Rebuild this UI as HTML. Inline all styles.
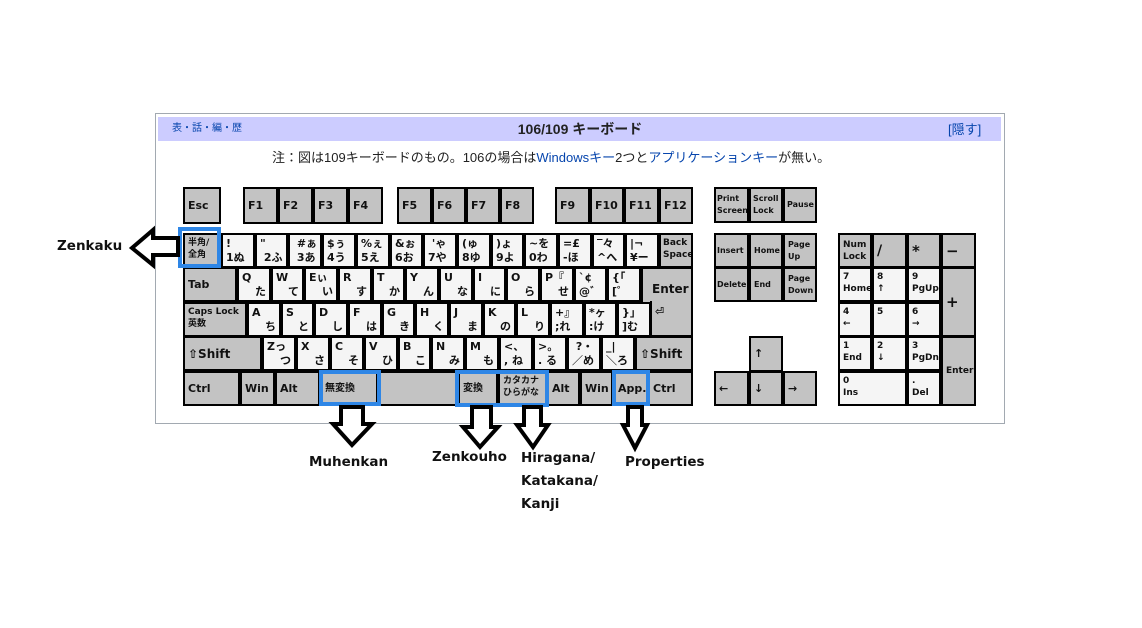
<!DOCTYPE html>
<html><head><meta charset="utf-8"><style>
body{margin:0;width:1142px;height:628px;background:#fff;position:relative;overflow:hidden;font-family:"Liberation Sans","Noto Sans CJK JP",sans-serif}
.box{position:absolute;left:155px;top:113px;width:848px;height:309px;border:1px solid #a2a9b1;background:#fff}
.tb{position:absolute;left:158px;top:117px;width:843px;height:24px;background:#ccccff}
.k{position:absolute;box-sizing:border-box;border:2px solid #000;font:bold 11px "DejaVu Sans","Noto Sans CJK JP",sans-serif;padding:2px 3px;line-height:14px;overflow:hidden;color:#111;white-space:nowrap}
.g{background:#c3c3c3}.w{background:#f5f5f5}
.c{display:flex;align-items:center}
.r{text-align:right}
.s{font-size:9px;line-height:12px}
.bl{position:absolute;box-sizing:border-box;border:4px solid #2e86e6}
.lb{position:absolute;font:bold 14px "DejaVu Sans",sans-serif;color:#111;line-height:24px}
</style></head><body>
<div class="box"></div>
<div class="tb"></div>
<div style="position:absolute;left:172px;top:119px;font-size:10px;color:#0645ad">表・話・編・歴</div>
<div style="position:absolute;left:480px;top:119px;width:200px;text-align:center;font:bold 14px 'Liberation Sans','Noto Sans CJK JP',sans-serif;color:#222">106/109 キーボード</div>
<div style="position:absolute;left:948px;top:119px;font-size:13px;color:#0645ad">[隠す]</div>
<div style="position:absolute;left:272px;top:147px;font-size:13px;color:#222">注：図は109キーボードのもの。106の場合は<span style="color:#0645ad">Windowsキー</span>2つと<span style="color:#0645ad">アプリケーションキー</span>が無い。</div>

<!-- F row -->
<div class="k g c" style="left:183px;top:187px;width:38px;height:37px">Esc</div>
<div class="k g c" style="left:243px;top:187px;width:35px;height:37px">F1</div>
<div class="k g c" style="left:278px;top:187px;width:35px;height:37px">F2</div>
<div class="k g c" style="left:313px;top:187px;width:35px;height:37px">F3</div>
<div class="k g c" style="left:348px;top:187px;width:35px;height:37px">F4</div>
<div class="k g c" style="left:397px;top:187px;width:35px;height:37px">F5</div>
<div class="k g c" style="left:432px;top:187px;width:34px;height:37px">F6</div>
<div class="k g c" style="left:466px;top:187px;width:34px;height:37px">F7</div>
<div class="k g c" style="left:500px;top:187px;width:34px;height:37px">F8</div>
<div class="k g c" style="left:555px;top:187px;width:35px;height:37px">F9</div>
<div class="k g c" style="left:590px;top:187px;width:34px;height:37px">F10</div>
<div class="k g c" style="left:624px;top:187px;width:35px;height:37px">F11</div>
<div class="k g c" style="left:659px;top:187px;width:34px;height:37px">F12</div>
<div class="k g c s" style="left:714px;top:187px;width:35px;height:36px;font-size:8px;padding:1px">Print<br>Screen</div>
<div class="k g c s" style="left:749px;top:187px;width:34px;height:36px;font-size:8px;padding:1px 2px">Scroll<br>Lock</div>
<div class="k g c s" style="left:783px;top:187px;width:34px;height:36px;font-size:8px;padding:1px 2px">Pause</div>

<!-- number row -->
<div class="k g s" style="left:183px;top:233px;width:38px;height:35px">半角/<br>全角</div>
<div class="k w" style="left:221px;top:233px;width:34px;height:35px">!<br>1ぬ</div>
<div class="k w" style="left:255px;top:233px;width:33px;height:35px">&quot;<br>&nbsp;2ふ</div>
<div class="k w" style="left:288px;top:233px;width:34px;height:35px">&nbsp;#ぁ<br>&nbsp;3あ</div>
<div class="k w" style="left:322px;top:233px;width:34px;height:35px">$ぅ<br>4う</div>
<div class="k w" style="left:356px;top:233px;width:34px;height:35px">%ぇ<br>5え</div>
<div class="k w" style="left:390px;top:233px;width:33px;height:35px">&amp;ぉ<br>6お</div>
<div class="k w" style="left:423px;top:233px;width:34px;height:35px">&nbsp;'ゃ<br>7や</div>
<div class="k w" style="left:457px;top:233px;width:34px;height:35px">(ゅ<br>8ゆ</div>
<div class="k w" style="left:491px;top:233px;width:33px;height:35px">)ょ<br>9よ</div>
<div class="k w" style="left:524px;top:233px;width:34px;height:35px">~を<br>0わ</div>
<div class="k w" style="left:558px;top:233px;width:34px;height:35px">=£<br>-ほ</div>
<div class="k w" style="left:592px;top:233px;width:33px;height:35px">‾々<br>^へ</div>
<div class="k w" style="left:625px;top:233px;width:34px;height:35px">|¬<br>¥ー</div>
<div class="k g s" style="left:659px;top:233px;width:34px;height:35px;font-size:9px;padding:2px 2px">Back<br>Space</div>

<!-- tab row -->
<div class="k g c" style="left:183px;top:267px;width:54px;height:35px">Tab</div>
<div class="k w" style="left:237px;top:267px;width:34px;height:35px">Q<div class="r">た</div></div>
<div class="k w" style="left:271px;top:267px;width:33px;height:35px">W<div class="r">て</div></div>
<div class="k w" style="left:304px;top:267px;width:34px;height:35px">Eぃ<div class="r">い</div></div>
<div class="k w" style="left:338px;top:267px;width:34px;height:35px">R<div class="r">す</div></div>
<div class="k w" style="left:372px;top:267px;width:33px;height:35px">T<div class="r">か</div></div>
<div class="k w" style="left:405px;top:267px;width:34px;height:35px">Y<div class="r">ん</div></div>
<div class="k w" style="left:439px;top:267px;width:34px;height:35px">U<div class="r">な</div></div>
<div class="k w" style="left:473px;top:267px;width:33px;height:35px">I<div class="r">に</div></div>
<div class="k w" style="left:506px;top:267px;width:34px;height:35px">O<div class="r">ら</div></div>
<div class="k w" style="left:540px;top:267px;width:34px;height:35px">P『<div class="r">せ</div></div>
<div class="k w" style="left:574px;top:267px;width:33px;height:35px">`¢<br>@゛</div>
<div class="k w" style="left:607px;top:267px;width:34px;height:35px">{「<br>[゜</div>
<div class="k g" style="left:641px;top:267px;width:52px;height:37px;padding:13px 0 0 9px;font-size:12px">Enter</div>
<div class="k g" style="left:650px;top:301px;width:43px;height:36px;padding-left:3px">⏎</div>
<div style="position:absolute;left:652px;top:299px;width:39px;height:6px;background:#c3c3c3"></div>

<!-- caps row -->
<div class="k g s" style="left:183px;top:302px;width:64px;height:35px;font-size:9px">Caps Lock<br>英数</div>
<div class="k w" style="left:247px;top:302px;width:34px;height:35px">A<div class="r">ち</div></div>
<div class="k w" style="left:281px;top:302px;width:33px;height:35px">S<div class="r">と</div></div>
<div class="k w" style="left:314px;top:302px;width:34px;height:35px">D<div class="r">し</div></div>
<div class="k w" style="left:348px;top:302px;width:34px;height:35px">F<div class="r">は</div></div>
<div class="k w" style="left:382px;top:302px;width:33px;height:35px">G<div class="r">き</div></div>
<div class="k w" style="left:415px;top:302px;width:34px;height:35px">H<div class="r">く</div></div>
<div class="k w" style="left:449px;top:302px;width:34px;height:35px">J<div class="r">ま</div></div>
<div class="k w" style="left:483px;top:302px;width:33px;height:35px">K<div class="r">の</div></div>
<div class="k w" style="left:516px;top:302px;width:34px;height:35px">L<div class="r">り</div></div>
<div class="k w" style="left:550px;top:302px;width:34px;height:35px">+』<br>;れ</div>
<div class="k w" style="left:584px;top:302px;width:33px;height:35px">*ヶ<br>:け</div>
<div class="k w" style="left:617px;top:302px;width:34px;height:35px">}」<br>]む</div>

<!-- shift row -->
<div class="k g c" style="left:183px;top:336px;width:79px;height:35px;font-size:12px">⇧Shift</div>
<div class="k w" style="left:262px;top:336px;width:34px;height:35px">Zっ<div class="r">つ</div></div>
<div class="k w" style="left:296px;top:336px;width:34px;height:35px">X<div class="r">さ</div></div>
<div class="k w" style="left:330px;top:336px;width:34px;height:35px">C<div class="r">そ</div></div>
<div class="k w" style="left:364px;top:336px;width:34px;height:35px">V<div class="r">ひ</div></div>
<div class="k w" style="left:398px;top:336px;width:33px;height:35px">B<div class="r">こ</div></div>
<div class="k w" style="left:431px;top:336px;width:34px;height:35px">N<div class="r">み</div></div>
<div class="k w" style="left:465px;top:336px;width:34px;height:35px">M<div class="r">も</div></div>
<div class="k w" style="left:499px;top:336px;width:34px;height:35px">&lt;、<br>, ね</div>
<div class="k w" style="left:533px;top:336px;width:34px;height:35px">&gt;。<br>. る</div>
<div class="k w" style="left:567px;top:336px;width:34px;height:35px">&nbsp;?・<br>／め</div>
<div class="k w" style="left:601px;top:336px;width:34px;height:35px">_|<br>＼ろ</div>
<div class="k g c" style="left:635px;top:336px;width:58px;height:35px;font-size:12px">⇧Shift</div>

<!-- bottom row -->
<div class="k g c" style="left:183px;top:371px;width:57px;height:35px">Ctrl</div>
<div class="k g c" style="left:240px;top:371px;width:35px;height:35px">Win</div>
<div class="k g c" style="left:275px;top:371px;width:45px;height:35px">Alt</div>
<div class="k g c s" style="left:320px;top:371px;width:58px;height:35px;font-size:10px">無変換</div>
<div class="k g" style="left:378px;top:371px;width:80px;height:35px"></div>
<div class="k g c s" style="left:458px;top:371px;width:40px;height:35px;font-size:10px">変換</div>
<div class="k g s" style="left:498px;top:371px;width:49px;height:35px;font-size:9px;line-height:12px">カタカナ<br>ひらがな</div>
<div class="k g c" style="left:547px;top:371px;width:33px;height:35px">Alt</div>
<div class="k g c" style="left:580px;top:371px;width:33px;height:35px">Win</div>
<div class="k g c" style="left:613px;top:371px;width:35px;height:35px">App.</div>
<div class="k g c" style="left:648px;top:371px;width:45px;height:35px">Ctrl</div>

<!-- nav -->
<div class="k g c s" style="left:714px;top:233px;width:35px;height:35px;font-size:8px;padding:1px">Insert</div>
<div class="k g c s" style="left:749px;top:233px;width:34px;height:35px;font-size:8px">Home</div>
<div class="k g c s" style="left:783px;top:233px;width:34px;height:35px;font-size:8px">Page<br>Up</div>
<div class="k g c s" style="left:714px;top:267px;width:35px;height:35px;font-size:8px;padding:1px">Delete</div>
<div class="k g c s" style="left:749px;top:267px;width:34px;height:35px;font-size:8px">End</div>
<div class="k g c s" style="left:783px;top:267px;width:34px;height:35px;font-size:8px">Page<br>Down</div>
<div class="k g c" style="left:749px;top:336px;width:34px;height:36px">↑</div>
<div class="k g c" style="left:714px;top:371px;width:35px;height:35px">←</div>
<div class="k g c" style="left:749px;top:371px;width:34px;height:35px">↓</div>
<div class="k g c" style="left:783px;top:371px;width:34px;height:35px">→</div>

<!-- numpad -->
<div class="k g c s" style="left:838px;top:233px;width:34px;height:35px;font-size:9px">Num<br>Lock</div>
<div class="k g c" style="left:872px;top:233px;width:35px;height:35px;font-size:14px">/</div>
<div class="k g c" style="left:907px;top:233px;width:34px;height:35px;font-size:15px">*</div>
<div class="k g c" style="left:941px;top:233px;width:35px;height:35px;font-size:15px">−</div>
<div class="k w s" style="left:838px;top:267px;width:34px;height:35px;font-size:9px">7<br>Home</div>
<div class="k w s" style="left:872px;top:267px;width:35px;height:35px;font-size:9px">8<br>↑</div>
<div class="k w s" style="left:907px;top:267px;width:34px;height:35px;font-size:9px">9<br>PgUp</div>
<div class="k g c" style="left:941px;top:267px;width:35px;height:70px;font-size:15px">+</div>
<div class="k w s" style="left:838px;top:302px;width:34px;height:35px;font-size:9px">4<br>←</div>
<div class="k w s" style="left:872px;top:302px;width:35px;height:35px;font-size:9px">5</div>
<div class="k w s" style="left:907px;top:302px;width:34px;height:35px;font-size:9px">6<br>→</div>
<div class="k w s" style="left:838px;top:336px;width:34px;height:35px;font-size:9px">1<br>End</div>
<div class="k w s" style="left:872px;top:336px;width:35px;height:35px;font-size:9px">2<br>↓</div>
<div class="k w s" style="left:907px;top:336px;width:34px;height:35px;font-size:9px">3<br>PgDn</div>
<div class="k g c s" style="left:941px;top:336px;width:35px;height:70px;font-size:9px">Enter</div>
<div class="k w s" style="left:838px;top:371px;width:69px;height:35px;font-size:9px">0<br>Ins</div>
<div class="k w s" style="left:907px;top:371px;width:34px;height:35px;font-size:9px">.<br>Del</div>

<!-- highlights -->
<div class="bl" style="left:178px;top:227px;width:43px;height:41px"></div>
<div class="bl" style="left:319px;top:370px;width:62px;height:36px"></div>
<div class="bl" style="left:455px;top:370px;width:94px;height:37px"></div>
<div class="bl" style="left:612px;top:370px;width:38px;height:36px"></div>

<svg width="1142" height="628" style="position:absolute;left:0;top:0" fill="#fff" stroke="#000" stroke-width="4" stroke-linejoin="miter">
<polygon points="178,238 153,238 153,230 132,248 153,265 153,255 178,255"/>
<polygon points="341,407 363,407 363,424 372,424 352,445 333,424 341,424"/>
<polygon points="472,407 491,407 491,427 498,427 480,447 463,427 472,427"/>
<polygon points="524,407 541,407 541,425 548,425 533,447 517,425 524,425"/>
<polygon points="628,407 642,407 642,425 647,425 635,448 623,425 628,425"/>
</svg>

<div class="lb" style="left:57px;top:234px;font-size:13.5px">Zenkaku</div>
<div class="lb" style="left:309px;top:450px;font-size:13.5px">Muhenkan</div>
<div class="lb" style="left:432px;top:445px;font-size:13.5px">Zenkouho</div>
<div class="lb" style="left:521px;top:447px;font-size:13.5px;line-height:23px">Hiragana/<br>Katakana/<br>Kanji</div>
<div class="lb" style="left:625px;top:450px;font-size:13.5px">Properties</div>
</body></html>
